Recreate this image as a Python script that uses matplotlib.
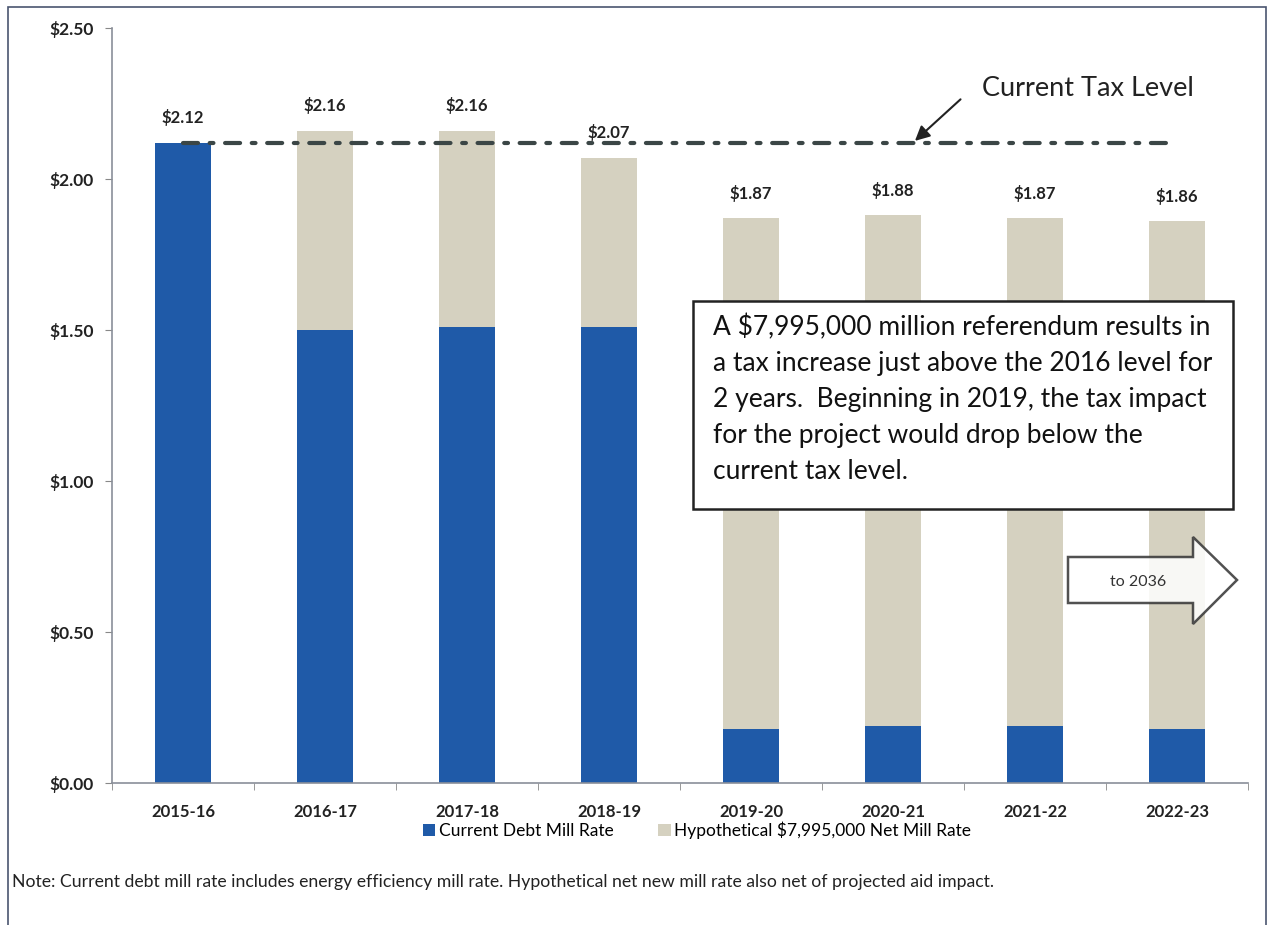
import matplotlib
matplotlib.use("Agg")
import matplotlib.pyplot as plt
from matplotlib.patches import Rectangle, Polygon
import numpy as np

plt.rcParams['font.family'] = ['Lato', 'DejaVu Sans']

categories = ['2015-16', '2016-17', '2017-18', '2018-19',
              '2019-20', '2020-21', '2021-22', '2022-23']
current_debt = [2.12, 1.50, 1.51, 1.51, 0.18, 0.19, 0.19, 0.18]
hypothetical = [0.00, 0.66, 0.65, 0.56, 1.69, 1.69, 1.68, 1.68]
current_tax_level = 2.12
yticks = [0.0, 0.5, 1.0, 1.5, 2.0, 2.5]

blue = '#1f5aa8'
beige = '#d5d1c0'
txt = '#222222'

W, H = 1268, 925
fig = plt.figure(figsize=(W / 100, H / 100), dpi=100)
ax = fig.add_axes([112 / W, 1 - 783 / H, 1136 / W, 755 / H])

x = np.arange(len(categories))
ax.bar(x, current_debt, width=0.4, color=blue, label='Current Debt Mill Rate', zorder=2)
ax.bar(x, hypothetical, width=0.4, bottom=current_debt, color=beige,
       label='Hypothetical $7,995,000 Net Mill Rate', zorder=2)

totals = np.array(current_debt) + np.array(hypothetical)
for xi, t in zip(x, totals):
    ax.annotate(f'${t:.2f}', (xi, t), xytext=(0, 18), textcoords='offset points',
                ha='center', va='center', fontsize=12, color=txt, fontweight='bold')

# current tax level line
ax.plot([x[0], x[-1]], [current_tax_level, current_tax_level], color='#3b4646', lw=3,
        linestyle=(0, (3.6, 2.8, 0.9, 2.8)), solid_capstyle='round', dash_capstyle='round',
        zorder=3)
ax.annotate('', xy=(5.14, current_tax_level), xytext=(5.49, 2.27),
            arrowprops=dict(arrowstyle='-|>', color='#222222', lw=1.5, mutation_scale=22))
ax.text(5.63, 2.30, 'Current Tax Level', fontsize=19.5, color=txt, va='center', ha='left')

ax.set_xlim(-0.5, len(categories) - 0.5)
ax.set_ylim(0, 2.5)
ax.set_yticks(yticks)
ax.set_yticklabels([f'${v:.2f}' for v in yticks])
ax.set_xticks(x)
ax.set_xticklabels(categories)
ax.set_xticks(np.arange(len(categories) + 1) - 0.5, minor=True)
ax.tick_params(axis='x', which='major', length=0, pad=15, labelsize=12, labelcolor=txt)
ax.tick_params(axis='x', which='minor', length=5, color='#888888', direction='out')
ax.tick_params(axis='y', length=5, color='#888888', pad=8, labelsize=12.5, labelcolor=txt)
for lab in ax.get_xticklabels() + ax.get_yticklabels():
    lab.set_fontweight('bold')
for s in ['top', 'right']:
    ax.spines[s].set_visible(False)
for s in ['left', 'bottom']:
    ax.spines[s].set_color('#8a8f99')
    ax.spines[s].set_linewidth(1.2)

fig.legend(loc='center', bbox_to_anchor=(697 / W, 1 - 830 / H), ncol=2, frameon=False,
           handlelength=0.7, handleheight=0.7, handletextpad=0.2,
           columnspacing=2.6, prop={'size': 12.5})

fig.text(12 / W, 1 - 882 / H,
         'Note: Current debt mill rate includes energy efficiency mill rate. '
         'Hypothetical net new mill rate also net of projected aid impact.',
         fontsize=12.7, color=txt, va='center', ha='left')

# annotation box
fig.patches.append(Rectangle((693 / W, 1 - 509 / H), 540 / W, 208 / H,
                             transform=fig.transFigure, facecolor='white',
                             edgecolor='#222222', lw=1.8, zorder=5))
fig.text(713 / W, 1 - 314 / H,
         'A $7,995,000 million referendum results in\n'
         'a tax increase just above the 2016 level for\n'
         '2 years.  Beginning in 2019, the tax impact\n'
         'for the project would drop below the\n'
         'current tax level.',
         fontsize=19, color='#111111', va='top', ha='left', linespacing=1.55, zorder=6)

# block arrow
pts = [(1068, 557), (1193, 557), (1193, 537), (1237, 580), (1193, 624), (1193, 603), (1068, 603)]
fig.patches.append(Polygon([(px / W, 1 - py / H) for px, py in pts], closed=True,
                           transform=fig.transFigure, facecolor='white', alpha=0.85,
                           edgecolor='#333333', lw=1.8, zorder=5))
fig.text(1138 / W, 1 - 582 / H, 'to 2036', fontsize=11.5, color='#333333',
         ha='center', va='center', zorder=6)

# outer frame
fig.patches.append(Rectangle((8 / W, -0.05), 1258 / W, 1.05 - 7 / H, transform=fig.transFigure,
                             fill=False, edgecolor='#4a5570', lw=1.2))

fig.savefig('out.png', dpi=100)
